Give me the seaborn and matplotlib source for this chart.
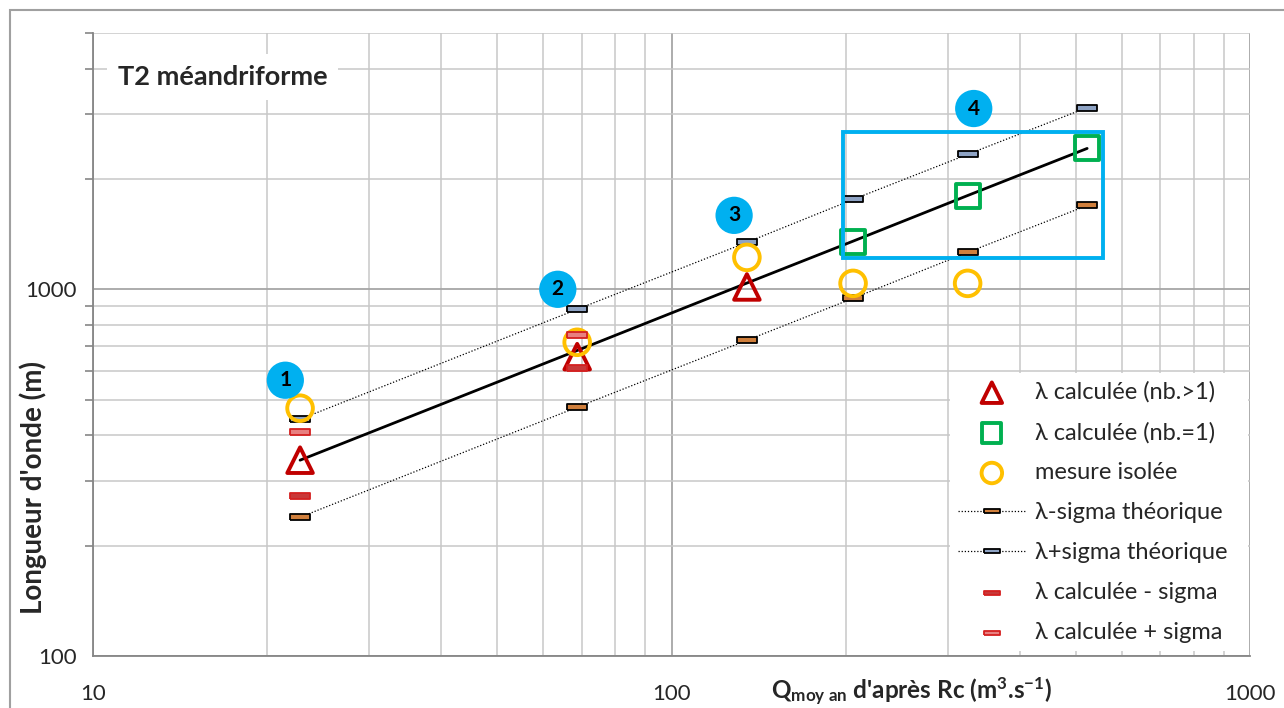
import matplotlib
matplotlib.use("Agg")
import matplotlib.pyplot as plt
import seaborn as sns
import numpy as np
import pandas as pd
from matplotlib.patches import Rectangle
from matplotlib.lines import Line2D
from matplotlib.ticker import FixedLocator, NullFormatter, FixedFormatter

# ---------------- data ----------------
# λ calculée (nb.>1)
tri_q = [22.8, 68.7, 135]
tri_l = [342, 655, 1015]
# λ calculée (nb.=1)
sq_q = [206, 325, 523]
sq_l = [1343, 1792, 2422]
# mesure isolée
circ_q = [22.8, 68.7, 135, 206, 325]
circ_l = [474, 717, 1222, 1038, 1038]
# théorique (regression line)
theo_q = [22.8, 68.7, 135, 206, 325, 523]
theo_l = [342, 681, 1040, 1353, 1802, 2422]
# λ-sigma théorique
minus_q = [22.8, 68.7, 135, 206, 325, 523]
minus_l = [239, 477, 726, 945, 1261, 1693]
# λ+sigma théorique
plus_q = [22.8, 68.7, 135, 206, 325, 523]
plus_l = [442, 882, 1343, 1758, 2333, 3131]
# λ calculée ± sigma
cm_q = [22.8, 68.7]
cm_l = [273, 609]
cp_q = [22.8, 68.7]
cp_l = [408, 750]

group_labels = ["1", "2", "3", "4"]
group_q = [21.5, 63.6, 128.3, 333]
group_l = [565, 1000, 1591, 3112]

xticks = [10, 100, 1000]
yticks = [100, 1000]

# ---------------- style ----------------
sns.set_theme(style="white")
plt.rcParams["font.family"] = ["Lato", "DejaVu Sans"]
plt.rcParams["mathtext.fontset"] = "custom"
plt.rcParams["mathtext.rm"] = "Lato"
plt.rcParams["mathtext.bf"] = "Lato:bold"
plt.rcParams["mathtext.it"] = "Lato:italic"

fig = plt.figure(figsize=(12.84, 7.08), dpi=100)
ax = fig.add_axes([93/1284, 1-656/708, (1250-93)/1284, (656-33)/708])
ax.set_xscale("log")
ax.set_yscale("log")
ax.set_xlim(10, 1000)
ax.set_ylim(100, 5000)

# grid
ax.xaxis.set_major_locator(FixedLocator(xticks))
ax.yaxis.set_major_locator(FixedLocator(yticks))
xminor = [v * d for d in (10, 100) for v in range(2, 10)]
yminor = [v * d for d in (100,) for v in range(2, 10)] + [2000, 3000, 4000, 5000]
ax.xaxis.set_minor_locator(FixedLocator(xminor))
ax.yaxis.set_minor_locator(FixedLocator(yminor))
ax.xaxis.set_minor_formatter(NullFormatter())
ax.yaxis.set_minor_formatter(NullFormatter())
ax.xaxis.set_major_formatter(FixedFormatter([str(v) for v in xticks]))
ax.yaxis.set_major_formatter(FixedFormatter([str(v) for v in yticks]))
ax.grid(which="major", color="#A6A6A6", lw=1.3)
ax.grid(which="minor", color="#C8C8C8", lw=1.1)
ax.set_axisbelow(True)
ax.tick_params(which="both", direction="out", color="#868686", width=1.2)
ax.tick_params(axis="y", which="major", length=8, labelsize=16, pad=4)
ax.tick_params(axis="y", which="minor", length=6, left=True)
ax.tick_params(axis="x", which="major", length=8, labelsize=16, pad=12)
ax.tick_params(axis="x", which="minor", length=0, bottom=False)
for s in ["left", "bottom"]:
    ax.spines[s].set_color("#868686")
    ax.spines[s].set_linewidth(1.3)
for s in ["top", "right"]:
    ax.spines[s].set_visible(False)

# ---------------- series ----------------
dash = [(-1, -0.28), (1, -0.28), (1, 0.28), (-1, 0.28), (-1, -0.28)]

df_theo = pd.DataFrame({"q": theo_q, "l": theo_l})
df_minus = pd.DataFrame({"q": minus_q, "l": minus_l})
df_plus = pd.DataFrame({"q": plus_q, "l": plus_l})

sns.lineplot(data=df_theo, x="q", y="l", ax=ax, color="black", lw=2.0, sort=False, zorder=3)
sns.lineplot(data=df_minus, x="q", y="l", ax=ax, color="black", lw=0.9, ls=(0, (1, 1.5)), sort=False, zorder=3)
sns.lineplot(data=df_plus, x="q", y="l", ax=ax, color="black", lw=0.9, ls=(0, (1, 1.5)), sort=False, zorder=3)

h_minus = ax.scatter(minus_q, minus_l, marker=dash, s=210, facecolor="#D07F3C", edgecolor="black", lw=1.3, zorder=4)
h_plus = ax.scatter(plus_q, plus_l, marker=dash, s=210, facecolor="#8EA3C4", edgecolor="black", lw=1.3, zorder=4)

h_tri = ax.scatter(tri_q, tri_l, marker="^", s=340, facecolor="none", edgecolor="#C00000", lw=2.8, zorder=5)
h_sq = ax.scatter(sq_q, sq_l, marker="s", s=300, facecolor="none", edgecolor="#00B050", lw=2.8, zorder=5)
h_circ = ax.scatter(circ_q, circ_l, marker="o", s=340, facecolor="none", edgecolor="#FFC000", lw=2.8, zorder=5)

h_cm = ax.scatter(cm_q, cm_l, marker=dash, s=210, facecolor="#C83838", edgecolor="#D42020", lw=1.3, zorder=6)
h_cp = ax.scatter(cp_q, cp_l, marker=dash, s=210, facecolor="#E88080", edgecolor="#D42020", lw=1.3, zorder=6)

# blue frame around group 4
ax.add_patch(Rectangle((198, 1215), 557 - 198, 2678 - 1215, fill=False,
                       edgecolor="#00B0F0", lw=2.8, zorder=6))

# numbered bubbles
for lab, q, l in zip(group_labels, group_q, group_l):
    ax.scatter([q], [l], s=720, color="#00B0F0", edgecolor="none", zorder=6)
    ax.text(q, l, lab, ha="center", va="center", fontsize=15, fontweight="bold",
            color="black", zorder=7)

# title box
ax.text(0.0215, 0.929, "T2 méandriforme", transform=ax.transAxes, fontsize=19.5,
        fontweight="bold", ha="left", va="center", zorder=8,
        bbox=dict(boxstyle="square,pad=0.4", fc="white", ec="none"))

# legend
hl_minus = Line2D([], [], color="black", lw=0.9, ls=(0, (1, 1.5)), marker=dash,
                  markersize=14, markerfacecolor="#D07F3C", markeredgecolor="black", markeredgewidth=1.3)
hl_plus = Line2D([], [], color="black", lw=0.9, ls=(0, (1, 1.5)), marker=dash,
                 markersize=14, markerfacecolor="#8EA3C4", markeredgecolor="black", markeredgewidth=1.3)
handles = [h_tri, h_sq, h_circ, hl_minus, hl_plus, h_cm, h_cp]
labels = ["λ calculée (nb.>1)", "λ calculée (nb.=1)", "mesure isolée",
          "λ-sigma théorique", "λ+sigma théorique", "λ calculée - sigma", "λ calculée + sigma"]
leg = ax.legend(handles, labels, loc="lower right", bbox_to_anchor=(0.998, 0.008),
                fontsize=17, frameon=True, fancybox=False, framealpha=1,
                facecolor="white", edgecolor="none", handlelength=2.85,
                labelspacing=0.8, borderpad=0.35, handletextpad=0.4,
                borderaxespad=0.0, markerscale=0.8, scatterpoints=1)
leg.set_zorder(9)
# extra right padding like the reference
for t in leg.get_texts():
    t.set_text(t.get_text() + "  ")

# axis labels
ax.set_xlabel("")
ax.set_ylabel("")
fig.text(33/1284, 1 - 487/708, "Longueur d'onde (m)", rotation=90, ha="center",
         va="center", fontsize=20, fontweight="bold")
fig.text(911/1284, 1 - 692/708,
         r"$\mathbf{Q_{moy\ an}}$" + " d'après Rc (m" + r"$^{\mathbf{3}}$" + ".s" + r"$^{\mathbf{-1}}$" + ")",
         ha="center", va="center", fontsize=17.5, fontweight="bold")

# outer chart border
fig.patches.append(Rectangle((10/1284, -0.05), 1.2, 1 - 10/708 + 0.05, transform=fig.transFigure,
                             fill=False, edgecolor="#A0A0A0", lw=1.5, figure=fig))

fig.savefig("out.png", dpi=100)
